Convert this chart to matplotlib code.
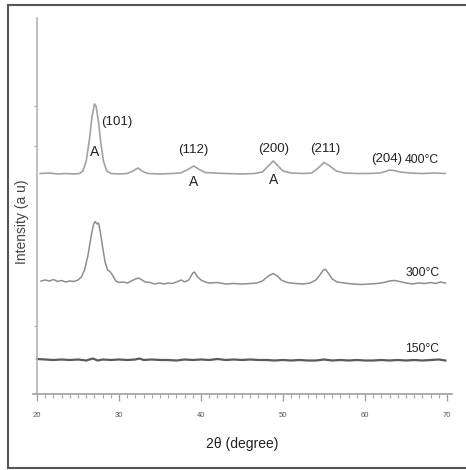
import numpy as np
import matplotlib
matplotlib.use("Agg")
import matplotlib.pyplot as plt
from matplotlib.lines import Line2D
from matplotlib.ticker import MultipleLocator, FixedLocator

plt.rcParams['font.family'] = ['Liberation Sans Narrow', 'Liberation Sans', 'DejaVu Sans']

# XRD traces (2theta in degrees, intensity in arbitrary units)
x_400 = [20.4, 21.5, 22.5, 23.5, 24.5, 25.2, 25.6, 26.0, 26.4, 26.7, 27.0, 27.2, 27.5, 27.8,
         28.1, 28.5, 29.0, 30.0, 31.0, 31.7, 32.3, 32.9, 33.5, 35.0, 36.5, 37.5, 38.3, 39.1,
         39.8, 40.5, 41.5, 43.0, 45.0, 46.5, 47.5, 48.2, 48.8, 49.4, 50.0, 51.0, 52.5, 53.5,
         54.3, 55.0, 55.7, 56.5, 57.5, 59.0, 60.5, 61.8, 62.5, 63.0, 63.5, 64.3, 65.5, 67.0,
         68.5, 69.8]
y_400 = [220.5, 221, 220, 220.5, 220, 220.5, 223, 233, 255, 277, 290, 288, 272, 250,
         233, 223, 220.5, 220, 220.5, 223, 226, 222.5, 220.5, 220, 220.5, 221, 224, 228,
         224.5, 221.5, 221, 220.5, 220, 220.5, 222, 228, 233, 228, 223, 221, 220.5, 221,
         226, 231.5, 228, 223, 221, 220.5, 220.5, 221, 222.5, 224, 223.5, 222, 221, 220.5,
         221, 220.5]

x_300 = [20.5, 21.0, 21.5, 22.0, 22.5, 23.0, 23.5, 24.0, 24.5, 25.0, 25.4, 25.8, 26.2, 26.6,
         26.9, 27.1, 27.3, 27.5, 27.7, 28.0, 28.3, 28.6, 28.9, 29.2, 29.6, 30.0, 30.5, 31.0,
         31.5, 32.0, 32.4, 32.8, 33.2, 33.8, 34.3, 35.0, 35.5, 36.0, 36.5, 37.0, 37.6, 38.0,
         38.5, 39.0, 39.2, 39.6, 40.0, 40.5, 41.0, 42.0, 43.0, 44.0, 45.0, 46.0, 46.8, 47.5,
         48.2, 48.8, 49.3, 49.8, 50.5, 51.5, 52.5, 53.3, 54.0, 54.5, 54.9, 55.2, 55.6, 56.0,
         56.6, 57.5, 58.5, 59.5, 60.5, 61.5, 62.3, 63.0, 63.6, 64.2, 65.0, 65.8, 66.5, 67.3,
         68.0, 68.6, 69.2, 69.8]
y_300 = [113, 114, 113, 114.5, 112.5, 113.5, 112, 113, 112.5, 114, 117, 124, 138, 158,
         170, 172.5, 170, 171, 163, 147, 132, 124, 122.5, 119, 113, 111.5, 112, 111,
         113, 115, 116, 114, 112, 111.5, 110, 111, 110, 111, 110.5, 112, 114, 112,
         114, 121, 122, 117, 114, 112, 111, 111.5, 110, 110.5, 110, 110.5, 111, 113,
         118, 120.5, 118, 114, 111.5, 110.5, 110, 111, 114, 119, 124, 124.5, 120, 115,
         112, 111, 110, 109.5, 110, 110.5, 111.5, 113, 113.5, 112.5, 111, 110, 111, 110.5,
         111.5, 110.5, 112, 111]

x_150 = [20.0, 21, 22, 23, 24, 25, 26, 26.8, 27.4, 28, 29, 30, 31, 32, 32.5, 33, 34, 35, 36,
         37, 38, 39, 40, 41, 42, 43, 44, 45, 46, 47, 48, 49, 50, 51, 52, 53, 54, 55, 56, 57,
         58, 59, 60, 61, 62, 63, 64, 65, 66, 67, 68, 69, 69.8]
y_150 = [35, 34.5, 34, 34.5, 34, 34.5, 33.5, 35.5, 33.5, 34.5, 34, 34.5, 34, 34.5, 35.5, 34,
         34.5, 34, 34, 33.5, 34.5, 34, 34.5, 34, 35, 34, 34.5, 34, 34.5, 34, 34, 33.5, 34,
         33.5, 34, 33.5, 33.5, 34.5, 33.5, 34, 33.5, 34, 33.5, 33.5, 34, 33.5, 34, 33.5, 34,
         33.5, 34, 34.5, 33.5]

# peak annotations: (label, 2theta, height)
hkl_labels = ['(101)', '(112)', '(200)', '(211)', '(204)']
hkl_x = [29.75, 39.0, 48.9, 55.1, 62.6]
hkl_y = [272, 243.5, 245, 245, 235]
anatase_x = [27.07, 39.15, 48.9]
anatase_y = [242, 212, 214]
temp_labels = ['400°C', '300°C', '150°C']
temp_y = [234, 121, 45]

fig = plt.figure(figsize=(4.66, 4.70), dpi=100)
ax = fig.add_axes([33 / 466, 1 - 394 / 470, 419 / 466, 376 / 470])

ax.plot(x_400, y_400, color='#a2a2a2', lw=1.2)
ax.plot(x_300, y_300, color='#8e8e8e', lw=1.1)
ax.plot(x_150, y_150, color='#5a5a5a', lw=1.6)

for lab, xx, yy in zip(hkl_labels, hkl_x, hkl_y):
    ax.text(xx, yy, lab, ha='center', va='center', fontsize=9.5, color='#222222')
for xx, yy in zip(anatase_x, anatase_y):
    ax.text(xx, yy, 'A', ha='center', va='center', fontsize=10, color='#222222')
for lab, yy in zip(temp_labels, temp_y):
    ax.text(64.9, yy, lab, ha='left', va='center', fontsize=8.7, color='#222222')

ax.set_xlim(19.51, 70.61)
ax.set_ylim(0, 376)

ax.spines['top'].set_visible(False)
ax.spines['right'].set_visible(False)
ax.spines['left'].set_position(('data', 20))
ax.spines['left'].set_color('#b4b4b4')
ax.spines['bottom'].set_color('#a0a0a0')
ax.spines['left'].set_linewidth(1.2)
ax.spines['bottom'].set_linewidth(1.2)

ax.xaxis.set_major_locator(MultipleLocator(10))
ax.xaxis.set_minor_locator(MultipleLocator(1))
ax.tick_params(axis='x', which='major', length=5, width=1, color='#a0a0a0',
               labelsize=5.5, labelcolor='#555555', pad=8)
ax.tick_params(axis='x', which='minor', length=3, width=0.8, color='#a8a8a8')
ax.yaxis.set_major_locator(FixedLocator([68, 248, 288]))
ax.tick_params(axis='y', which='major', length=2, width=0.8, color='#aaaaaa', labelleft=False)

ax.set_xlabel('2θ (degree)', fontsize=10, color='#222222', labelpad=13)
fig.text(22.5 / 466, 1 - 222 / 470, 'Intensity (a u)', rotation=90, ha='center', va='center',
         fontsize=10, color='#444444')

# scanned frame around the figure
fig.add_artist(Line2D([8 / 466, 8 / 466], [1 - 5 / 470, 1 - 468 / 470], color='#555555', lw=1.5))
fig.add_artist(Line2D([8 / 466, 1.0], [1 - 5 / 470, 1 - 5 / 470], color='#555555', lw=1.5))
fig.add_artist(Line2D([8 / 466, 1.0], [1 - 468 / 470, 1 - 468 / 470], color='#555555', lw=1.5))

fig.savefig('out.png', dpi=100)
